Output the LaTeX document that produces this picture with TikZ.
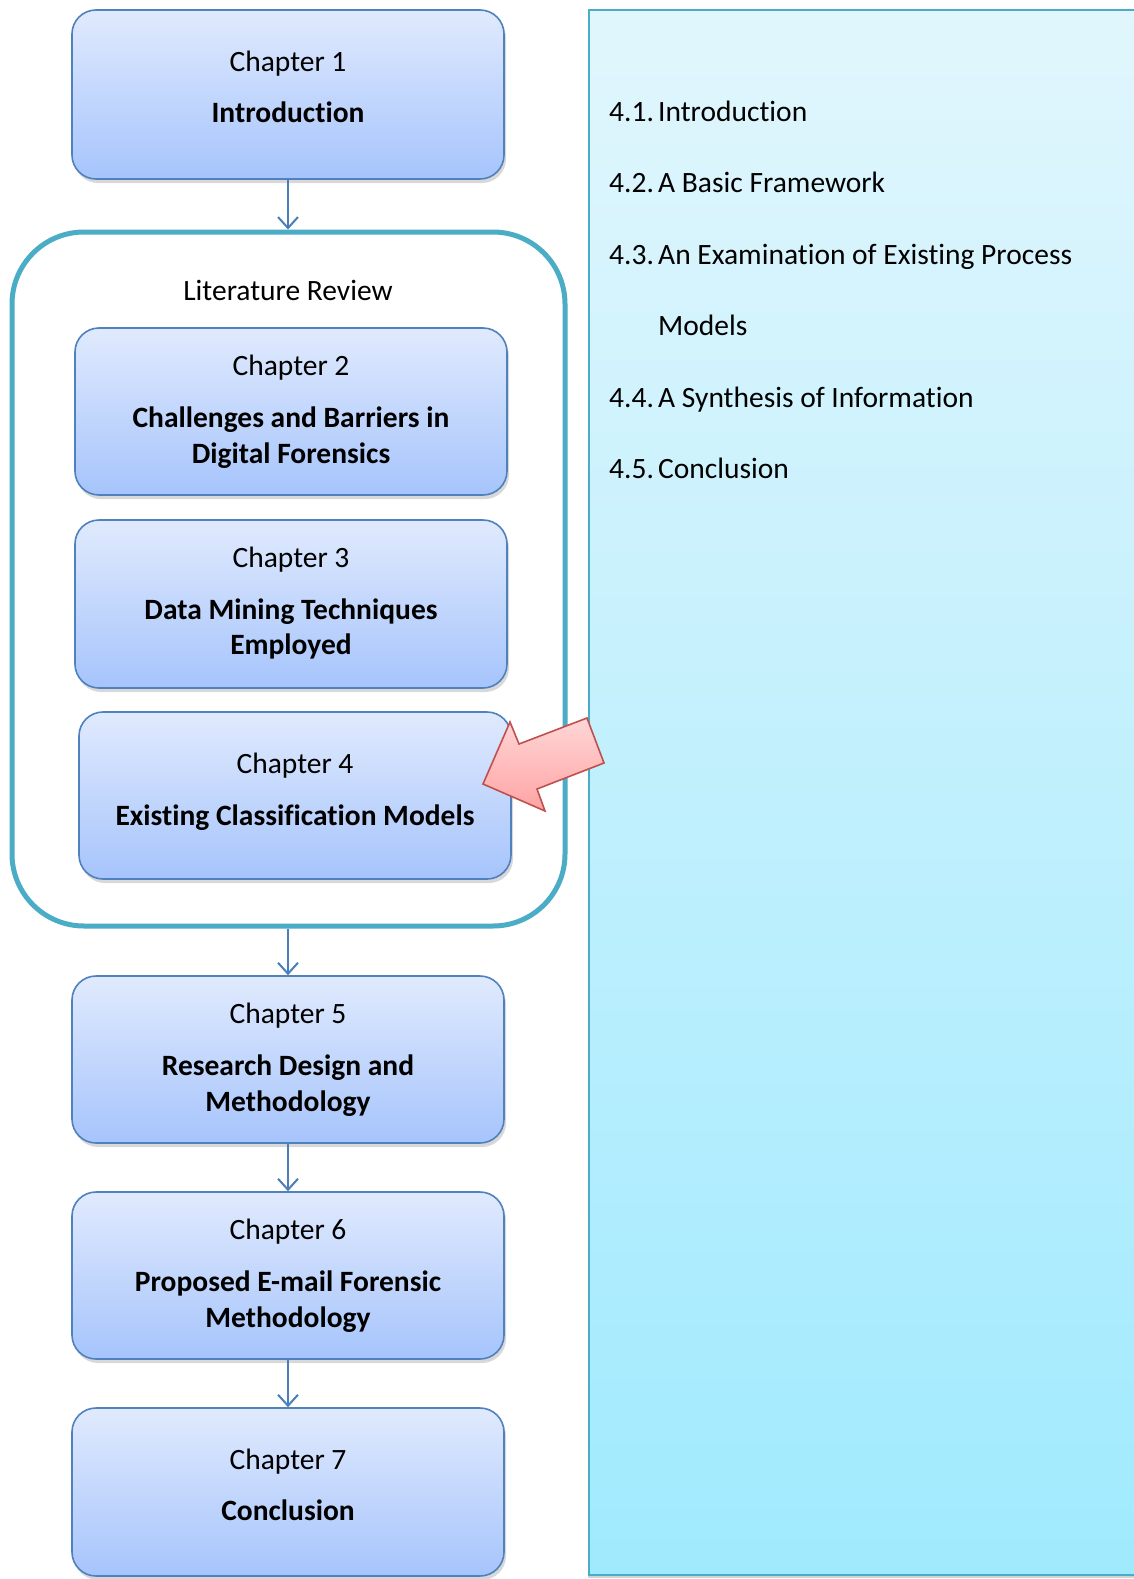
\documentclass[tikz,border=0pt]{standalone}
\usepackage{fontspec}
\setmainfont[RawFeature={-liga;-clig;-dlig;-calt}]{Carlito}
\usetikzlibrary{arrows.meta,shadows}

\definecolor{boxtop}{HTML}{E0EAFD}
\definecolor{boxbot}{HTML}{A6C4FC}
\definecolor{boxline}{HTML}{4F81BD}
\definecolor{framecol}{HTML}{4BACC6}
\definecolor{paneltop}{HTML}{E1F6FD}
\definecolor{panelbot}{HTML}{A0EAFE}
\definecolor{flowcol}{HTML}{4A7EBB}
\definecolor{callline}{HTML}{C0504D}
\definecolor{calltop}{HTML}{FFD6D6}
\definecolor{callbot}{HTML}{FFA3A3}

\tikzset{
  chapbox/.style={rectangle, rounded corners=24pt, draw=boxline, line width=1.6pt,
    top color=boxtop, bottom color=boxbot, minimum width=432pt, inner sep=0pt,
    drop shadow={shadow xshift=2pt, shadow yshift=-4pt, opacity=0.3}},
  littext/.style={anchor=base, inner sep=0pt, font=\fontsize{29.5}{36}\selectfont},
  boldtext/.style={littext, font=\fontsize{29.5}{36}\selectfont\bfseries},
  flow/.style={draw=flowcol, line width=2pt, -{Straight Barb[length=11pt, width=20pt, line width=2pt]}},
  listitem/.style={anchor=base west, inner sep=0pt, font=\fontsize{29.5}{36}\selectfont},
}
\newcommand{\numitem}[2]{\makebox[49pt][l]{#1}#2}

\begin{document}
\begin{tikzpicture}[x=1pt, y=-1pt]
\path[use as bounding box, fill=white] (0,0) rectangle (1133,1579);

% Literature review frame
\node[rectangle, rounded corners=72pt, draw=framecol, line width=5pt,
      minimum width=553pt, minimum height=694pt, inner sep=0pt] (lit) at (288.5,579) {};
\node[littext] (littitle) at (288,300) {Literature Review};

% Chapter boxes
\node[chapbox, minimum height=169pt] (c1) at (288,94.5) {};
\node[chapbox, minimum height=167pt] (c2) at (291,411.5) {};
\node[chapbox, minimum height=168pt] (c3) at (291,604) {};
\node[chapbox, minimum height=167pt] (c4) at (295,795.5) {};
\node[chapbox, minimum height=167pt] (c5) at (288,1059.5) {};
\node[chapbox, minimum height=167pt] (c6) at (288,1275.5) {};
\node[chapbox, minimum height=168pt] (c7) at (288,1492) {};

% Box texts
\node[littext]  (c1a) at (288,71)  {Chapter 1};
\node[boldtext] (c1b) at (288,122) {Introduction};

\node[littext]  (c2a) at (291,375) {Chapter 2};
\node[boldtext] (c2b) at (291,427) {Challenges and Barriers in};
\node[boldtext] (c2c) at (291,463) {Digital Forensics};

\node[littext]  (c3a) at (291,567) {Chapter 3};
\node[boldtext] (c3b) at (291,619) {Data Mining Techniques};
\node[boldtext] (c3c) at (291,654) {Employed};

\node[littext]  (c4a) at (295,773) {Chapter 4};
\node[boldtext] (c4b) at (295,825) {Existing Classification Models};

\node[littext]  (c5a) at (288,1023) {Chapter 5};
\node[boldtext] (c5b) at (288,1075) {Research Design and};
\node[boldtext] (c5c) at (288,1111) {Methodology};

\node[littext]  (c6a) at (288,1239) {Chapter 6};
\node[boldtext] (c6b) at (288,1291) {Proposed E-mail Forensic};
\node[boldtext] (c6c) at (288,1327) {Methodology};

\node[littext]  (c7a) at (288,1469) {Chapter 7};
\node[boldtext] (c7b) at (288,1520) {Conclusion};

% Flow connectors
\draw[flow] (c1.south) -- (c1.south |- lit.north);
\draw[flow] (c5.north |- lit.south) -- (c5.north);
\draw[flow] (c5.south) -- (c6.north);
\draw[flow] (c6.south) -- (c7.north);

% Section panel
\node[rectangle, draw=framecol, line width=1.5pt, top color=paneltop, bottom color=panelbot,
      minimum width=556pt, minimum height=1565pt, inner sep=0pt,
      drop shadow={shadow xshift=-1pt, shadow yshift=-3pt, opacity=0.35}] (panel) at (867,792.5) {};

\node[listitem] (s1) at (609,121) {\numitem{4.1.}{Introduction}};
\node[listitem] (s2) at (609,192) {\numitem{4.2.}{A Basic Framework}};
\node[listitem] (s3) at (609,264) {\numitem{4.3.}{An Examination of Existing Process}};
\node[listitem] (s3b) at (658,335) {Models};
\node[listitem] (s4) at (609,407) {\numitem{4.4.}{A Synthesis of Information}};
\node[listitem] (s5) at (609,478) {\numitem{4.5.}{Conclusion}};

% Block arrow pointing at chapter 4
\draw[callline, line width=1.6pt, line join=miter, top color=calltop, bottom color=callbot]
  (483,784) -- (510,722) -- (519,744) -- (587,718) -- (604,763) -- (537,789) -- (545,811) -- cycle;
\end{tikzpicture}
\end{document}
